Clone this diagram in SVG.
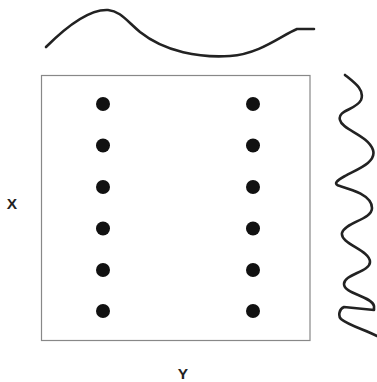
<svg xmlns="http://www.w3.org/2000/svg" width="377" height="382" viewBox="0 0 377 382">
<style>
.wave{fill:none;stroke:#222;stroke-width:2.6;stroke-linecap:round;stroke-linejoin:round}
.dot{fill:#111}
.lbl{font-family:"Liberation Sans",Arial,sans-serif;font-weight:bold;font-size:15.5px;fill:#222;text-anchor:middle}
</style>
<rect width="377" height="382" fill="#fff"/>
<path class="wave" d="M46,47 C68,25 90,9 108,10 C120,11 126,20 140,32 C165,52 200,58 230,56 C260,54 282,35 297,29 L314,29"/>
<rect x="41.5" y="75.5" width="268.5" height="265" fill="none" stroke="#888" stroke-width="1.2"/>
<g id="dots">
<circle class="dot" cx="103" cy="104" r="7"/>
<circle class="dot" cx="103" cy="145.5" r="7"/>
<circle class="dot" cx="103" cy="187" r="7"/>
<circle class="dot" cx="103" cy="228.5" r="7"/>
<circle class="dot" cx="103" cy="270" r="7"/>
<circle class="dot" cx="103" cy="311" r="7"/>
<circle class="dot" cx="253" cy="104" r="7"/>
<circle class="dot" cx="253" cy="145.5" r="7"/>
<circle class="dot" cx="253" cy="187" r="7"/>
<circle class="dot" cx="253" cy="228.5" r="7"/>
<circle class="dot" cx="253" cy="270" r="7"/>
<circle class="dot" cx="253" cy="311" r="7"/>
</g>
<path class="wave" d="M345,75 C355,83 365,90 361,100 C356,110 337,110 340,120 C342,130 368,135 373,150 C377,163 355,170 345,176 C336,181 333,184 340,186 C350,189 372,195 372,208 C372,220 345,222 342,233 C340,244 370,250 370,262 C370,272 344,274 344,284 C344,294 372,296 374,306 L374,310 L344,307 C339,309 338,316 341,319 C348,325 365,330 377,336"/>
<text class="lbl" x="12" y="208.5">X</text>
<text class="lbl" x="183" y="378.5">Y</text>
</svg>
